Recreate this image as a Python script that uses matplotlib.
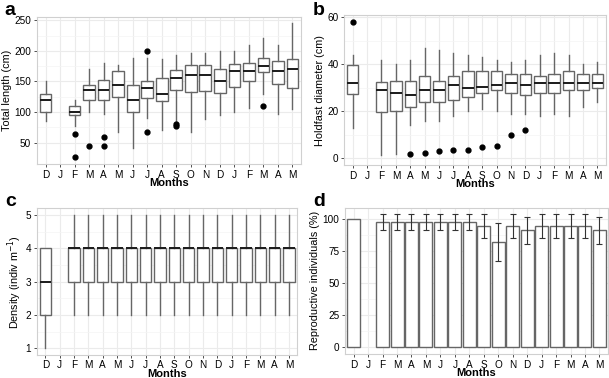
import matplotlib.pyplot as plt
import numpy as np

plt.rcParams['font.family'] = ['Liberation Sans', 'DejaVu Sans']

months = ['D', 'J', 'F', 'M', 'A', 'M', 'J', 'J', 'A', 'S', 'O', 'N', 'D', 'J', 'F', 'M', 'A', 'M']
# sampled months (the first J has no data)
pos = [0] + list(range(2, 18))

# a: total length (cm)
len_lo = [85, 78, 100, 97, 67, 42, 90, 70, 86, 68, 88, 96, 100, 106, 130, 97, 105]
len_q1 = [100, 96, 120, 120, 125, 100, 123, 118, 136, 132, 134, 131, 141, 150, 165, 146, 140]
len_med = [120, 100, 136, 136, 144, 120, 140, 129, 155, 160, 160, 150, 167, 167, 176, 167, 170]
len_q3 = [129, 110, 145, 152, 167, 144, 150, 155, 169, 177, 177, 170, 178, 180, 189, 184, 187]
len_hi = [150, 120, 170, 180, 177, 189, 189, 187, 194, 196, 197, 200, 199, 210, 221, 210, 245]
len_out = [[], [64, 26], [45], [60, 44], [], [], [200, 68], [], [81, 77], [], [], [], [], [], [110], [], []]

# b: holdfast diameter (cm)
hd_lo = [13, 1.5, 2, 14, 16, 16, 18, 20, 21, 20, 19, 19, 18, 19, 18, 22, 24]
hd_q1 = [27.5, 19.7, 20, 22, 24, 24, 25, 26, 28, 29, 28, 27, 28, 28, 29, 29, 30]
hd_med = [32, 29, 28, 27, 29, 29, 31, 30, 30.5, 31, 32, 31, 32, 32, 32, 32, 32]
hd_q3 = [39.5, 32.5, 33, 33, 35, 33, 35, 37, 37, 37, 36, 36, 35, 36, 37, 36, 36]
hd_hi = [44, 42, 40, 42, 47, 46, 45, 44, 43, 42, 41, 42, 44, 45, 44, 40, 41]
hd_out = [[58], [], [], [2], [2.3], [3.2], [3.5], [3.5], [4.7], [5.2], [10], [12], [], [], [], [], []]

# c: density (indiv m-1)
den_lo = [1] + [2] * 16
den_q1 = [2] + [3] * 16
den_med = [3] + [4] * 16
den_q3 = [4] * 17
den_hi = [4] + [5] * 16

# d: reproductive individuals (%)
rep = [100, 97.5, 97.5, 97.5, 97.5, 97.5, 97.5, 97.5, 94.4, 82, 94.4, 91.2, 94.4, 94.4, 94.4, 94.4, 91.2]
rep_err = [0, 6, 6, 6, 6, 6, 6, 6, 9, 14.7, 9, 10.5, 9, 9, 9, 9, 10.5]

fig = plt.figure(figsize=(6.09, 3.78), dpi=100)
ax_a = fig.add_axes([0.0605, 0.566, 0.434, 0.390])
ax_b = fig.add_axes([0.565, 0.563, 0.430, 0.397])
ax_c = fig.add_axes([0.0605, 0.061, 0.428, 0.388])
ax_d = fig.add_axes([0.5665, 0.063, 0.432, 0.388])

edge = '#666666'


def style(ax, yticks, ylim, ylabel):
    ax.set_xlim(-0.6, 17.6)
    ax.set_ylim(*ylim)
    ax.set_xticks(range(len(months)))
    ax.set_xticklabels(months)
    ax.set_yticks(yticks)
    minor = [(yticks[i] + yticks[i + 1]) / 2 for i in range(len(yticks) - 1)]
    ax.set_yticks(minor, minor=True)
    ax.grid(which='major', color='#ebebeb', linewidth=0.8)
    ax.grid(which='minor', axis='y', color='#f4f4f4', linewidth=0.5)
    ax.set_axisbelow(True)
    for s in ax.spines.values():
        s.set_color('#d0d0d0')
        s.set_linewidth(0.8)
    ax.tick_params(axis='both', which='major', length=2.5, width=0.6, color='#333333',
                   labelsize=7.2, pad=1.5, labelcolor='black')
    ax.tick_params(axis='y', which='minor', length=0)
    ax.set_xlabel('Months', fontsize=8, fontweight='bold', labelpad=-1)
    ax.set_ylabel(ylabel, fontsize=7.8, labelpad=1.5)


def boxes(ax, lo, q1, med, q3, hi, out):
    stats = []
    for i in range(len(lo)):
        stats.append({'whislo': lo[i], 'q1': q1[i], 'med': med[i], 'q3': q3[i],
                      'whishi': hi[i], 'fliers': out[i]})
    ax.bxp(stats, positions=pos, widths=0.8, showcaps=False, patch_artist=True,
           boxprops=dict(facecolor='white', edgecolor=edge, linewidth=1.0),
           whiskerprops=dict(color=edge, linewidth=1.0),
           medianprops=dict(color='#1a1a1a', linewidth=1.4),
           flierprops=dict(marker='o', markerfacecolor='black', markeredgecolor='black',
                           markersize=3.5), manage_ticks=False)


boxes(ax_a, len_lo, len_q1, len_med, len_q3, len_hi, len_out)
style(ax_a, [50, 100, 150, 200, 250], (15, 256), 'Total length (cm)')

boxes(ax_b, hd_lo, hd_q1, hd_med, hd_q3, hd_hi, hd_out)
style(ax_b, [0, 20, 40, 60], (-2.9, 60.9), 'Holdfast diameter (cm)')

boxes(ax_c, den_lo, den_q1, den_med, den_q3, den_hi, [[]] * 17)
style(ax_c, [1, 2, 3, 4, 5], (0.8, 5.2), 'Density (indiv m$^{-1}$)')

ax_d.bar(pos, rep, width=0.9, color='white', edgecolor=edge, linewidth=1.0)
err_pos = [p for p, e in zip(pos, rep_err) if e > 0]
err_val = [r for r, e in zip(rep, rep_err) if e > 0]
err_e = [e for e in rep_err if e > 0]
ax_d.errorbar(err_pos, err_val, yerr=err_e, fmt='none', ecolor='#333333', elinewidth=0.8,
              capsize=2.2, capthick=0.8)
style(ax_d, [0, 25, 50, 75, 100], (-5.2, 108.8), 'Reproductive individuals (%)')

for lab, x, y in [('a', 0.008, 0.995), ('b', 0.513, 0.995), ('c', 0.008, 0.49), ('d', 0.515, 0.49)]:
    fig.text(x, y, lab, fontsize=14, fontweight='bold', va='top', ha='left')

fig.savefig('out.png', dpi=100)
